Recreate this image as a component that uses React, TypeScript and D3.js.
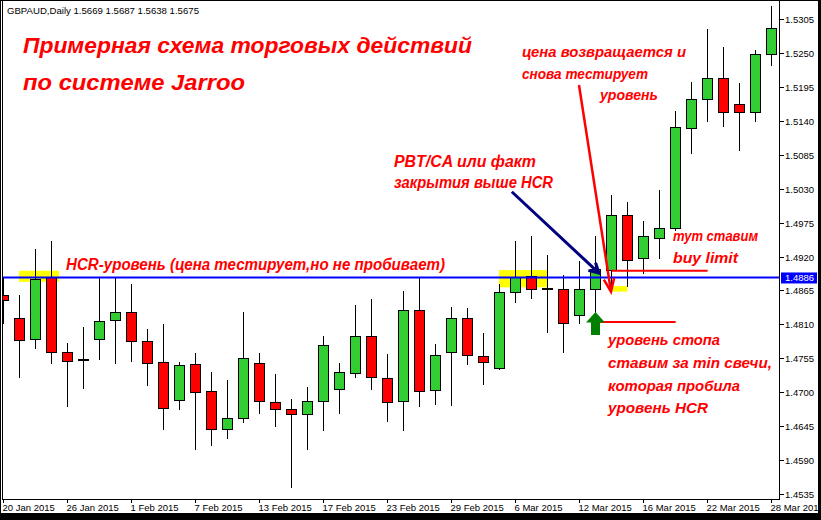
import React, { useEffect } from "react";
import * as d3 from "d3";

// ---- data ----
const dateLabels = [
  "20 Jan 2015", "26 Jan 2015", "1 Feb 2015", "7 Feb 2015", "13 Feb 2015",
  "17 Feb 2015", "23 Feb 2015", "29 Feb 2015", "6 Mar 2015", "12 Mar 2015",
  "16 Mar 2015", "22 Mar 2015", "28 Mar 2015",
];
const openP = [
  1.4857, 1.4821, 1.4786, 1.4886, 1.4766, 1.4753, 1.4786, 1.4817, 1.483, 1.4783,
  1.4749, 1.4687, 1.4745, 1.4702, 1.464, 1.4659, 1.4747, 1.4684, 1.4672, 1.4664,
  1.4685, 1.4705, 1.4731, 1.4791, 1.4723, 1.4685, 1.4833, 1.4703, 1.4765, 1.4821,
  1.4758, 1.4739, 1.4862, 1.4888, 1.4868, 1.4867, 1.4825, 1.4868, 1.4898, 1.4988,
  1.4917, 1.495, 1.4967, 1.5129, 1.5176, 1.5209, 1.5167, 1.5155, 1.5248,
];
const highP = [
  1.4887, 1.4858, 1.4932, 1.4945, 1.4779, 1.4805, 1.4886, 1.4886, 1.4875, 1.4803,
  1.481, 1.4749, 1.4763, 1.4733, 1.472, 1.483, 1.4764, 1.473, 1.4689, 1.4708,
  1.4791, 1.4747, 1.4841, 1.4851, 1.4762, 1.4864, 1.4886, 1.4778, 1.4838, 1.4836,
  1.4796, 1.4876, 1.4945, 1.4953, 1.4922, 1.489, 1.4913, 1.4953, 1.502, 1.5008,
  1.4978, 1.5028, 1.5156, 1.5203, 1.5289, 1.526, 1.5201, 1.5255, 1.5326,
];
const lowP = [
  1.4813, 1.4724, 1.4772, 1.4748, 1.4678, 1.4707, 1.4754, 1.4748, 1.4751, 1.4712,
  1.464, 1.4672, 1.4608, 1.4615, 1.4626, 1.4651, 1.4667, 1.4646, 1.4547, 1.4608,
  1.4638, 1.4667, 1.4725, 1.4706, 1.4654, 1.4639, 1.4677, 1.4681, 1.468, 1.4746,
  1.4714, 1.4737, 1.4847, 1.4852, 1.4798, 1.4766, 1.4812, 1.4814, 1.4862, 1.4872,
  1.4894, 1.4918, 1.4963, 1.5088, 1.514, 1.5132, 1.5092, 1.5139, 1.5231,
];
const closeP = [
  1.4849, 1.4784, 1.4883, 1.4766, 1.475, 1.4753, 1.4815, 1.483, 1.4783, 1.4747,
  1.4674, 1.4744, 1.47, 1.464, 1.4659, 1.4755, 1.4685, 1.4672, 1.4664, 1.4685,
  1.4776, 1.4732, 1.4791, 1.4724, 1.4684, 1.4834, 1.4702, 1.4761, 1.4821, 1.476,
  1.4749, 1.4862, 1.4886, 1.4867, 1.4868, 1.4813, 1.4868, 1.4899, 1.4987, 1.4915,
  1.4954, 1.4967, 1.513, 1.5176, 1.5209, 1.5155, 1.5155, 1.5249, 1.529,
];
const priceTicks = [
  "1.4535", "1.4590", "1.4645", "1.4700", "1.4755", "1.4810", "1.4865", "1.4920",
  "1.4975", "1.5030", "1.5085", "1.5140", "1.5195", "1.5250", "1.5305",
];
const hcrLevel = 1.4886;
// highlight zones: [startIndex, endIndex, topPrice, bottomPrice]
const zoneStart = [1.0, 31.0, 38.04];
const zoneEnd = [3.5, 34.0, 39.02];
const zoneTop = [1.4897, 1.4898, 1.4872];
const zoneBottom = [1.4879, 1.487, 1.4863];
// order lines
const buyLimitPrice = 1.4897;
const buyLimitFrom = 38.04;
const buyLimitTo = 44.04;
const stopPrice = 1.4814;
const stopFrom = 37.06;
const stopTo = 42.04;
const signalBar = 37;

export default function App() {
  useEffect(() => {
    document.body.style.margin = "0";
  }, []);

  const W = 821;
  const H = 520;
  const plotRight = 779.5;
  const plotBottom = 499.5;
  const n = openP.length;

  const x = d3.scaleLinear().domain([0, n - 1]).range([3, 3 + 16 * (n - 1)]);
  const y = d3.scaleLinear().domain([1.4535, 1.5305]).range([494, 19]);

  const hand: React.CSSProperties = {
    fontFamily: "'Liberation Sans', Arial, sans-serif",
    fontStyle: "italic",
    fontWeight: "bold",
  };
  const axisFont = "'Liberation Sans', Tahoma, Arial, sans-serif";

  const arrowHead = (x1: number, y1: number, x2: number, y2: number, len: number, ang: number) => {
    const a = Math.atan2(y1 - y2, x1 - x2);
    const p1 = [x2 + len * Math.cos(a + ang), y2 + len * Math.sin(a + ang)];
    const p2 = [x2 + len * Math.cos(a - ang), y2 + len * Math.sin(a - ang)];
    return `M${p1[0]},${p1[1]} L${x2},${y2} L${p2[0]},${p2[1]}`;
  };

  // red arrow (index, price)
  const ra = { x1: x(36), y1: y(1.5198), x2: x(38), y2: y(1.4863) };
  const ba = { x1: x(31.8), y1: y(1.5025), x2: x(37.25), y2: y(1.4893) };

  const gx = x(signalBar) + 0.5;
  const gy = Math.round(y(lowP[signalBar]));

  const redText = (t: string, tx: number, ty: number, size: number, len: number) => (
    <text
      x={tx}
      y={ty}
      fontSize={size}
      fill="#FF0000"
      style={hand}
      textLength={len}
      lengthAdjust="spacingAndGlyphs"
    >
      {t}
    </text>
  );

  return (
    <svg width={W} height={H} style={{ display: "block" }} xmlns="http://www.w3.org/2000/svg">
      <defs>
        <clipPath id="plot">
          <rect x={2} y={0} width={778} height={500} />
        </clipPath>
      </defs>
      <rect x={0} y={0} width={W} height={H} fill="#FFFFFF" />

      <g clipPath="url(#plot)">
        {/* highlight zones (background) */}
        {zoneStart.map((s, i) => (
          <rect
            key={"z" + i}
            x={x(s)}
            y={y(zoneTop[i])}
            width={x(zoneEnd[i]) - x(s)}
            height={y(zoneBottom[i]) - y(zoneTop[i])}
            fill="#FFFF00"
          />
        ))}

        {/* candles */}
        {openP.map((o, i) => {
          const c = closeP[i];
          const cx = x(i);
          const yh = Math.round(y(highP[i]));
          const yl = Math.round(y(lowP[i]));
          const yt = Math.round(y(Math.max(o, c)));
          const yb = Math.round(y(Math.min(o, c)));
          const doji = o === c;
          const fill = c > o ? "#32CD32" : "#FF0000";
          return (
            <g key={"c" + i}>
              <line x1={cx + 0.5} x2={cx + 0.5} y1={yh} y2={yl + 1} stroke="#000" strokeWidth={1} />
              {doji ? (
                <rect x={cx - 5} y={yt - 1} width={11} height={2} fill="#000" />
              ) : (
                <rect
                  x={cx - 4.5}
                  y={yt + 0.5}
                  width={10}
                  height={Math.max(1, yb - yt)}
                  fill={fill}
                  stroke="#000"
                  strokeWidth={1}
                />
              )}
            </g>
          );
        })}

        {/* HCR level */}
        <line x1={2} x2={780} y1={y(hcrLevel)} y2={y(hcrLevel)} stroke="#0000FF" strokeWidth={2} />

        {/* order lines */}
        <line x1={x(buyLimitFrom)} x2={x(buyLimitTo)} y1={y(buyLimitPrice)} y2={y(buyLimitPrice)} stroke="#FF0000" strokeWidth={2} />
        <line x1={x(stopFrom)} x2={x(stopTo)} y1={y(stopPrice)} y2={y(stopPrice)} stroke="#FF0000" strokeWidth={2} />

        {/* red arrow */}
        <line x1={ra.x1} y1={ra.y1} x2={ra.x2} y2={ra.y2} stroke="#FF0000" strokeWidth={2.5} />
        <path d={arrowHead(ra.x1, ra.y1, ra.x2, ra.y2, 14, 0.38)} fill="none" stroke="#FF0000" strokeWidth={2.5} />

        {/* blue arrow */}
        <line x1={ba.x1} y1={ba.y1} x2={ba.x2} y2={ba.y2} stroke="#000080" strokeWidth={3} />
        <path d={arrowHead(ba.x1, ba.y1, ba.x2, ba.y2, 11, 0.5)} fill="none" stroke="#000080" strokeWidth={3} />

        {/* green up arrow under signal bar */}
        <path
          d={`M${gx},${gy - 10} L${gx + 9.5},${gy + 0.5} L${gx + 4.5},${gy + 0.5} L${gx + 4.5},${gy + 13} L${gx - 4.5},${gy + 13} L${gx - 4.5},${gy + 0.5} L${gx - 9.5},${gy + 0.5} Z`}
          fill="#008000"
        />

        {/* texts */}
        {redText("Примерная схема торговых действий", 23, 53, 22, 449)}
        {redText("по системе Jarroo", 23, 90, 22, 222)}
        {redText("HCR-уровень (цена тестирует,но не пробивает)", 66, 270, 16, 379)}
        {redText("PBT/CA или факт", 394, 167, 16, 142)}
        {redText("закрытия выше HCR", 394, 188, 16, 159)}
        {redText("цена возвращается и", 522, 57, 15, 164)}
        {redText("снова тестирует", 522, 79, 15, 126)}
        {redText("уровень", 600, 100, 15, 58)}
        {redText("тут ставим", 673, 241, 15, 85)}
        {redText("buy limit", 673, 263, 15, 65)}
        {redText("уровень стопа", 608, 345, 15, 112)}
        {redText("ставим за min свечи,", 608, 368, 15, 164)}
        {redText("которая пробила", 608, 391, 15, 132)}
        {redText("уровень HCR", 608, 413, 15, 100)}
      </g>

      {/* header */}
      <text x={7} y={14} fontSize={9.5} fontFamily={axisFont} fill="#000" textLength={192} lengthAdjust="spacingAndGlyphs">
        GBPAUD,Daily  1.5669 1.5687 1.5638 1.5675
      </text>

      {/* frame */}
      <line x1={2.5} x2={2.5} y1={0} y2={plotBottom} stroke="#000" strokeWidth={1} />
      <line x1={0} x2={W} y1={0.5} y2={0.5} stroke="#000" strokeWidth={1} />
      <line x1={plotRight} x2={plotRight} y1={0} y2={plotBottom + 0.5} stroke="#000" strokeWidth={1} />
      <line x1={2} x2={plotRight + 0.5} y1={plotBottom} y2={plotBottom} stroke="#000" strokeWidth={1} />

      {/* price axis */}
      {priceTicks.map((t) => {
        const py = Math.round(y(+t)) + 0.5;
        return (
          <g key={"p" + t}>
            <line x1={780} x2={784} y1={py} y2={py} stroke="#000" strokeWidth={1} />
            <text x={785} y={py + 3.5} fontSize={9.5} fontFamily={axisFont} fill="#000">
              {t}
            </text>
          </g>
        );
      })}
      <rect x={781} y={y(hcrLevel) - 5} width={36} height={11} fill="#0000FF" />
      <text x={785} y={y(hcrLevel) + 3.5} fontSize={9.5} fontFamily={axisFont} fill="#FFFFFF">
        {hcrLevel.toFixed(4)}
      </text>

      {/* date axis */}
      {dateLabels.map((d, k) => {
        const tx = x(k * 4);
        return (
          <g key={"d" + k}>
            <line x1={tx + 0.5} x2={tx + 0.5} y1={plotBottom} y2={503} stroke="#000" strokeWidth={1} />
            <text x={tx - 0.5} y={511} fontSize={9.5} fontFamily={axisFont} fill="#000">
              {d}
            </text>
          </g>
        );
      })}

      {/* outer border */}
      <rect x={818} y={0} width={3} height={H} fill="#000" />
      <rect x={0} y={513} width={W} height={7} fill="#000" />
      <rect x={0} y={0} width={1} height={H} fill="#000" />
    </svg>
  );
}
